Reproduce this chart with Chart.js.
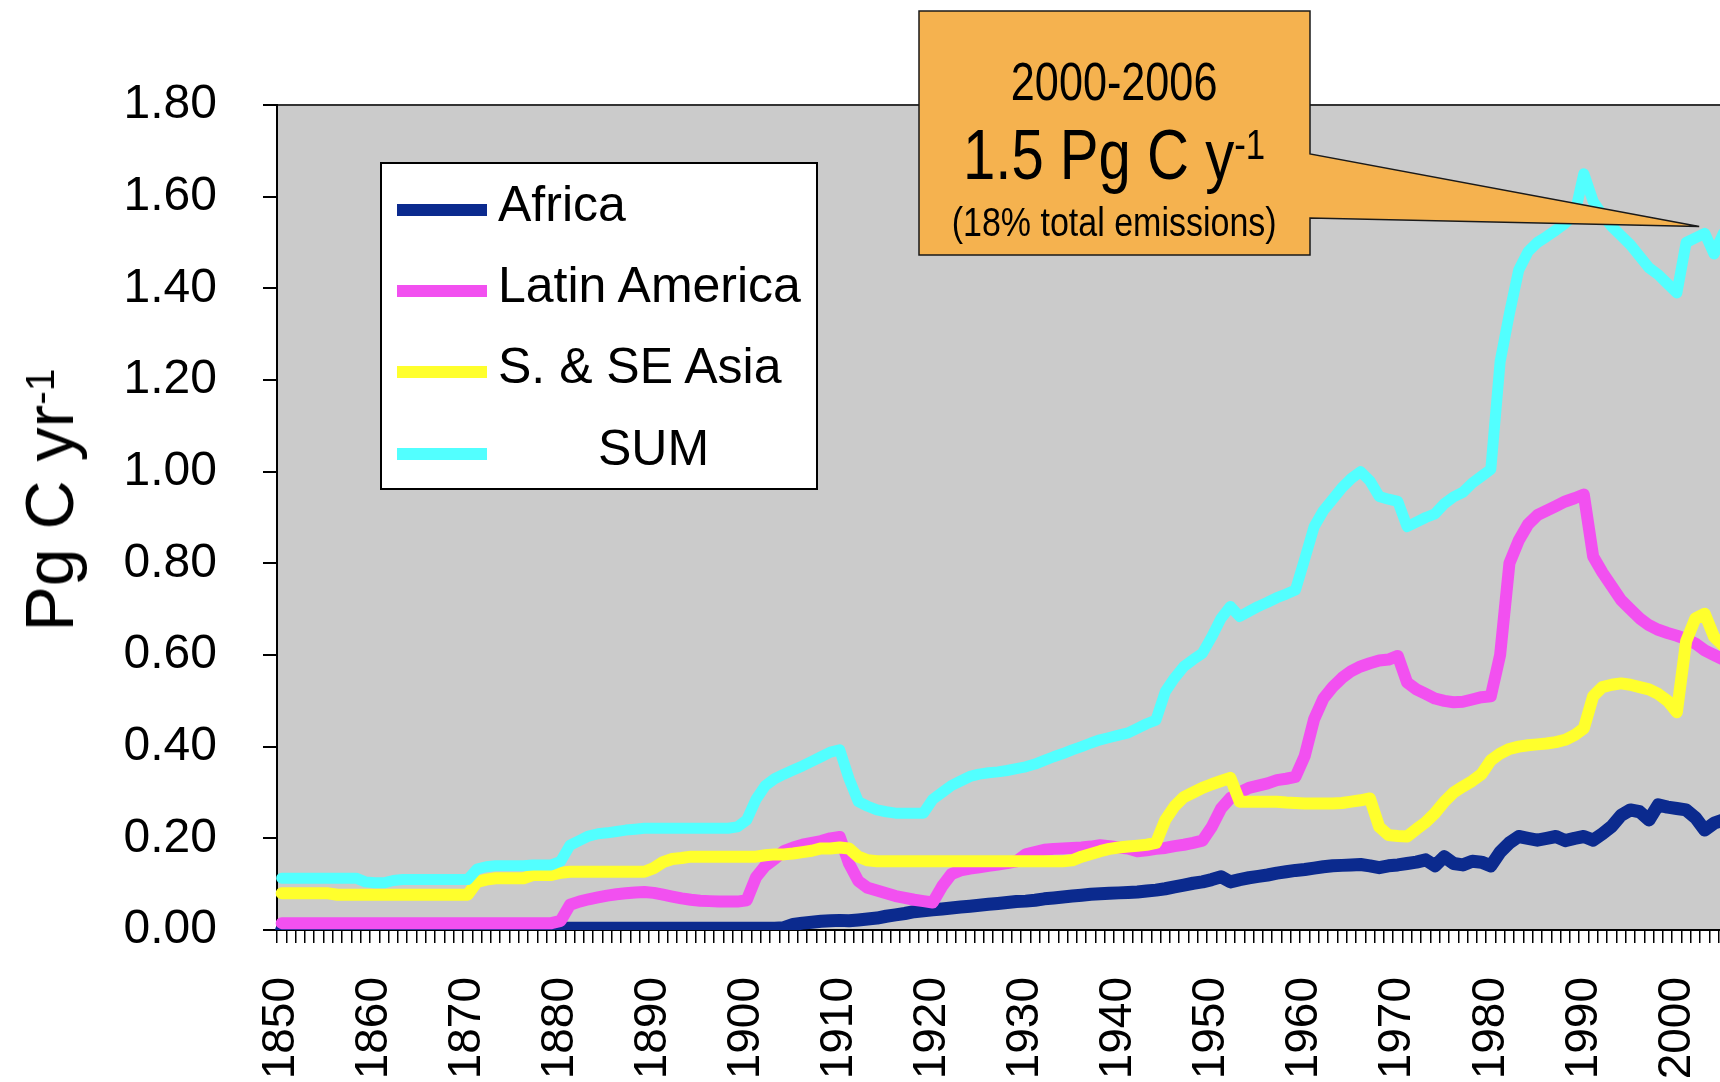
<!DOCTYPE html>
<html>
<head>
<meta charset="utf-8">
<title>Land-use change emissions: Africa, Latin America, S. &amp; SE Asia</title>
<script src="https://cdn.jsdelivr.net/npm/chart.js@4.4.1/dist/chart.umd.min.js"></script>
<style>
  html, body { margin: 0; padding: 0; width: 1720px; height: 1082px; overflow: hidden; background: #fff; }
  body { position: relative; font-family: 'Liberation Sans', Arial, sans-serif; color: #000; }
  #wrap { position: absolute; left: 0; top: 0; width: 1760px; height: 1082px; }
  .ov { position: absolute; white-space: nowrap; line-height: 1; }
  .sup { font-size: 0.6em; vertical-align: 0.47em; line-height: 0; }
  #legend { position: absolute; left: 380px; top: 162px; width: 434px; height: 324px;
            background: #fff; border: 2px solid #000; }
  #legend .sw { position: absolute; left: 15px; width: 90px; height: 12px; }
  #legend .tx { position: absolute; font-size: 50px; line-height: 1; white-space: nowrap; }
  #ytitle { left: 49px; top: 500px; font-size: 68px; transform: translate(-50%, -50%) rotate(-90deg); }
  .ctext { left: 919px; width: 391px; text-align: center; }
  .ctext span.n { display: inline-block; }
</style>
</head>
<body>
<div id="wrap"><canvas id="chart"></canvas></div>

<div class="ov" id="ytitle">Pg C yr<span class="sup">-1</span></div>
<div id="legend"></div>

<div class="ov ctext" style="top:54px; font-size:54px;"><span class="n" style="transform:scaleX(0.8);">2000-2006</span></div>
<div class="ov ctext" style="top:120px; font-size:70px;"><span class="n" style="transform:scaleX(0.83);">1.5 Pg C y<span class="sup">-1</span></span></div>
<div class="ov ctext" style="top:202px; font-size:40px;"><span class="n" style="transform:scaleX(0.85);">(18% total emissions)</span></div>

<script>
// Land-use change carbon emissions by tropical region, 1850-2005 (Pg C per year)

const FONT = "'Liberation Sans', Arial, sans-serif";

// categories: one per year
const firstYear = 1850;
const years = Array.from({ length: 156 }, (_, i) => firstYear + i);
const decadeLabels = [1850, 1860, 1870, 1880, 1890, 1900, 1910, 1920, 1930, 1940, 1950, 1960, 1970, 1980, 1990, 2000];

const africa = [
    0, 0, 0, 0, 0, 0, 0, 0, 0, -0.005,
    -0.012, -0.012, -0.008, 0, 0, 0, 0, 0, 0, 0,
    0, 0, 0, 0, 0, 0, 0, 0, 0, 0,
    0.004, 0.004, 0.004, 0.004, 0.004, 0.004, 0.004, 0.004, 0.004, 0.004,
    0.004, 0.004, 0.004, 0.004, 0.004, 0.004, 0.004, 0.004, 0.004, 0.004,
    0.004, 0.004, 0.004, 0.004, 0.005, 0.012, 0.015, 0.017, 0.019, 0.02,
    0.021, 0.02, 0.022, 0.024, 0.026, 0.03, 0.033, 0.036, 0.04, 0.042,
    0.044, 0.046, 0.048, 0.05, 0.052, 0.054, 0.056, 0.058, 0.06, 0.062,
    0.063, 0.065, 0.068, 0.07, 0.072, 0.074, 0.076, 0.078, 0.079, 0.08,
    0.081, 0.082, 0.083, 0.085, 0.087, 0.09, 0.094, 0.098, 0.102, 0.105,
    0.11, 0.116, 0.105, 0.11, 0.114, 0.117, 0.12, 0.124, 0.127, 0.13,
    0.132, 0.135, 0.138, 0.14, 0.141, 0.142, 0.143, 0.14, 0.136, 0.14,
    0.142, 0.145, 0.148, 0.153, 0.14, 0.16, 0.145, 0.142, 0.15, 0.148,
    0.14, 0.17, 0.19, 0.204, 0.2, 0.196, 0.2, 0.204, 0.195, 0.2,
    0.204, 0.196, 0.21, 0.226, 0.25, 0.262, 0.258, 0.24, 0.273, 0.268,
    0.265, 0.262, 0.245, 0.218, 0.233, 0.24
];

const latinAmerica = [
    0.015, 0.015, 0.015, 0.015, 0.015, 0.015, 0.015, 0.015, 0.015, 0.015,
    0.015, 0.015, 0.015, 0.015, 0.015, 0.015, 0.015, 0.015, 0.015, 0.015,
    0.015, 0.015, 0.015, 0.015, 0.015, 0.015, 0.015, 0.015, 0.015, 0.015,
    0.02, 0.055, 0.062, 0.067, 0.071, 0.075, 0.078, 0.08, 0.082, 0.083,
    0.081, 0.077, 0.073, 0.069, 0.066, 0.064, 0.063, 0.062, 0.062, 0.062,
    0.065, 0.115, 0.14, 0.155, 0.172, 0.18, 0.186, 0.19, 0.194, 0.2,
    0.203, 0.145, 0.107, 0.092, 0.086, 0.08, 0.074, 0.07, 0.066, 0.063,
    0.06, 0.095, 0.122, 0.13, 0.134, 0.137, 0.14, 0.143, 0.146, 0.15,
    0.165, 0.17, 0.175, 0.177, 0.178, 0.179, 0.18, 0.182, 0.185, 0.183,
    0.18, 0.178, 0.172, 0.174, 0.177, 0.179, 0.183, 0.186, 0.19, 0.195,
    0.225, 0.265, 0.288, 0.3, 0.31, 0.315, 0.32, 0.327, 0.33, 0.334,
    0.38, 0.46, 0.505, 0.53, 0.55, 0.565, 0.575, 0.582, 0.588, 0.59,
    0.598, 0.54, 0.525, 0.515, 0.505, 0.5, 0.497, 0.498, 0.503, 0.508,
    0.51, 0.6, 0.8, 0.85, 0.885, 0.905, 0.915, 0.925, 0.935, 0.942,
    0.95, 0.815, 0.78, 0.75, 0.72, 0.7, 0.68, 0.665, 0.655, 0.648,
    0.642, 0.635, 0.625, 0.61, 0.6, 0.59
];

const sseAsia = [
    0.08, 0.08, 0.08, 0.08, 0.08, 0.08, 0.077, 0.077, 0.077, 0.077,
    0.077, 0.077, 0.077, 0.077, 0.077, 0.077, 0.077, 0.077, 0.077, 0.077,
    0.077, 0.105, 0.11, 0.113, 0.113, 0.113, 0.113, 0.12, 0.12, 0.12,
    0.125, 0.127, 0.127, 0.127, 0.127, 0.127, 0.127, 0.127, 0.127, 0.127,
    0.135, 0.148, 0.155, 0.157, 0.16, 0.16, 0.16, 0.16, 0.16, 0.16,
    0.16, 0.16, 0.163, 0.165, 0.165, 0.167, 0.17, 0.173, 0.178, 0.178,
    0.18, 0.178, 0.16, 0.152, 0.15, 0.15, 0.15, 0.15, 0.15, 0.15,
    0.15, 0.15, 0.15, 0.15, 0.15, 0.15, 0.15, 0.15, 0.15, 0.15,
    0.15, 0.15, 0.15, 0.15, 0.15, 0.152, 0.16, 0.166, 0.172, 0.177,
    0.18, 0.182, 0.184, 0.186, 0.19, 0.24, 0.27, 0.29, 0.3, 0.31,
    0.318, 0.325, 0.332, 0.28, 0.28, 0.28, 0.28, 0.28, 0.278, 0.277,
    0.276, 0.276, 0.276, 0.276, 0.277, 0.28, 0.283, 0.287, 0.225, 0.207,
    0.205, 0.204, 0.22, 0.235, 0.255, 0.28, 0.3, 0.313, 0.325, 0.34,
    0.37, 0.385, 0.395, 0.4, 0.403, 0.405, 0.407, 0.41, 0.415, 0.425,
    0.44, 0.51, 0.53, 0.535, 0.538, 0.535, 0.53, 0.525, 0.515, 0.5,
    0.475, 0.63, 0.68, 0.69, 0.64, 0.62
];

const sumTotal = [
    0.113, 0.113, 0.113, 0.113, 0.113, 0.113, 0.113, 0.113, 0.113, 0.105,
    0.103, 0.103, 0.108, 0.11, 0.11, 0.11, 0.11, 0.11, 0.11, 0.11,
    0.11, 0.133, 0.138, 0.14, 0.14, 0.14, 0.14, 0.142, 0.142, 0.142,
    0.15, 0.185, 0.195, 0.205, 0.21, 0.212, 0.215, 0.218, 0.22, 0.222,
    0.222, 0.222, 0.222, 0.222, 0.222, 0.222, 0.222, 0.222, 0.222, 0.225,
    0.24, 0.285, 0.315, 0.33, 0.34, 0.349, 0.358, 0.368, 0.378, 0.388,
    0.393, 0.33, 0.28, 0.27, 0.262, 0.258, 0.255, 0.255, 0.255, 0.255,
    0.285, 0.3, 0.315, 0.325, 0.335, 0.34, 0.343, 0.345, 0.348, 0.352,
    0.356, 0.362, 0.37, 0.378, 0.385, 0.393, 0.4, 0.408, 0.415, 0.42,
    0.425, 0.43, 0.44, 0.45, 0.458, 0.52, 0.55, 0.575, 0.59, 0.604,
    0.64, 0.68, 0.706, 0.684, 0.695, 0.706, 0.715, 0.725, 0.733, 0.742,
    0.81, 0.88, 0.915, 0.94, 0.965, 0.985, 1.0, 0.98, 0.946, 0.94,
    0.935, 0.88, 0.89, 0.9, 0.908, 0.93, 0.945, 0.955, 0.975, 0.99,
    1.005, 1.24, 1.345, 1.44, 1.48, 1.5, 1.513, 1.527, 1.542, 1.56,
    1.65, 1.59, 1.56, 1.535, 1.515, 1.495, 1.47, 1.445, 1.43, 1.41,
    1.39, 1.5, 1.51, 1.52, 1.475, 1.52
];

const seriesNames = ['Africa', 'Latin America', 'S. & SE Asia', 'SUM'];
const seriesColors = ['#0b2a8e', '#f250f0', '#ffff2c', '#52ffff'];

// where the callout arrow points (year, Pg C/yr)
const calloutTip = { year: 2002.4, value: 1.535 };

const PLOT_BG = '#cbcbcb';
const CALLOUT_BG = '#f5b24f';

// Build the legend box from the series names/colours
const legendEl = document.getElementById('legend');
const legendRowY = [46, 127, 208, 290];     // line centre inside the box
const legendIndent = [0, 0, 0, 100];        // "SUM" sits centred in the original
seriesNames.forEach((name, i) => {
    const sw = document.createElement('div');
    sw.className = 'sw';
    sw.style.top = (legendRowY[i] - 6) + 'px';
    sw.style.background = seriesColors[i];
    legendEl.appendChild(sw);

    const tx = document.createElement('div');
    tx.className = 'tx';
    tx.textContent = name;
    tx.style.left = (116 + legendIndent[i]) + 'px';
    tx.style.top = (legendRowY[i] + 11 - 42) + 'px';
    legendEl.appendChild(tx);
});

// grey plot area, frame and the orange callout
const plotFrame = {
    id: 'plotFrame',
    beforeDraw(chart) {
        const { ctx, chartArea: a } = chart;
        ctx.save();
        ctx.fillStyle = PLOT_BG;
        ctx.fillRect(a.left, a.top, a.right - a.left, a.bottom - a.top);
        ctx.strokeStyle = '#333';
        ctx.lineWidth = 2;
        ctx.strokeRect(a.left, a.top, a.right - a.left, a.bottom - a.top);
        ctx.restore();
    },
    afterDatasetsDraw(chart) {
        const { ctx } = chart;
        const tipX = chart.scales.x.getPixelForValue(calloutTip.year - firstYear);
        const tipY = chart.scales.y.getPixelForValue(calloutTip.value);
        const left = 919, top = 11, right = 1310, bottom = 255;
        ctx.save();
        ctx.beginPath();
        ctx.moveTo(left, top);
        ctx.lineTo(right, top);
        ctx.lineTo(right, 154);
        ctx.lineTo(tipX, tipY);
        ctx.lineTo(right, 218);
        ctx.lineTo(right, bottom);
        ctx.lineTo(left, bottom);
        ctx.closePath();
        ctx.fillStyle = CALLOUT_BG;
        ctx.fill();
        ctx.strokeStyle = '#1a1a1a';
        ctx.lineWidth = 1.5;
        ctx.lineJoin = 'miter';
        ctx.stroke();
        ctx.restore();
    }
};

function lineSet(i, data, width) {
    return {
        label: seriesNames[i],
        data: data,
        borderColor: seriesColors[i],
        backgroundColor: seriesColors[i],
        borderWidth: width,
        pointRadius: 0,
        tension: 0,
        fill: false,
        borderJoinStyle: 'round',
        borderCapStyle: 'round',
        order: 4 - i          // later series drawn on top, like the original
    };
}

new Chart(document.getElementById('chart'), {
    type: 'line',
    data: {
        labels: years,
        datasets: [
            lineSet(0, africa, 13),
            lineSet(1, latinAmerica, 12),
            lineSet(2, sseAsia, 12),
            lineSet(3, sumTotal, 11)
        ]
    },
    options: {
        responsive: true,
        maintainAspectRatio: false,
        animation: false,
        layout: { padding: { top: 105, left: 0, right: 32, bottom: 0 } },
        plugins: {
            legend: { display: false },   // drawn as HTML box instead
            tooltip: { enabled: false }
        },
        scales: {
            x: {
                type: 'category',
                offset: true,
                grid: {
                    display: true,
                    offset: true,
                    drawOnChartArea: false,
                    drawTicks: true,
                    tickLength: 13,
                    color: '#000',
                    lineWidth: 1.5
                },
                border: { display: true, color: '#000', width: 2 },
                ticks: {
                    autoSkip: false,
                    minRotation: 90,
                    maxRotation: 90,
                    padding: 34,
                    color: '#000',
                    font: { family: FONT, size: 46 },
                    callback: function (value, index) {
                        const y = years[index];
                        return decadeLabels.includes(y) ? String(y) : '';
                    }
                },
                afterFit: function (scale) {
                    scale.height = 152;
                    scale.paddingLeft = 0;
                    scale.paddingRight = 0;
                }
            },
            y: {
                min: 0,
                max: 1.8,
                grid: {
                    drawOnChartArea: false,
                    drawTicks: true,
                    tickLength: 14,
                    color: '#000',
                    lineWidth: 2
                },
                border: { display: true, color: '#000', width: 2 },
                ticks: {
                    stepSize: 0.2,
                    padding: 46,
                    color: '#000',
                    font: { family: FONT, size: 48 },
                    callback: function (value) { return value.toFixed(2); }
                },
                afterFit: function (scale) { scale.width = 277; }
            }
        }
    },
    plugins: [plotFrame]
});
</script>
</body>
</html>
